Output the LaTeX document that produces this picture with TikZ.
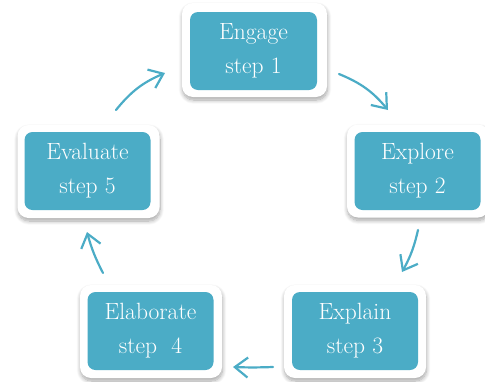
\documentclass[tikz,border=0pt]{standalone}
\usetikzlibrary{arrows.meta,shadows.blur}
\definecolor{cyclefill}{HTML}{4BACC6}
\begin{document}
\begin{tikzpicture}[x=1pt,y=-1pt,
  frame/.style={draw=none,fill=white,rounded corners=11pt,
    blur shadow={shadow xshift=0.5pt,shadow yshift=-3pt,shadow blur steps=10,shadow blur radius=4pt,shadow opacity=35},
    minimum width=142pt,minimum height=93pt,inner sep=0pt},
  stepbox/.style={fill=cyclefill,rounded corners=8pt,text=white,align=center,
    minimum width=126pt,minimum height=78pt,inner sep=0pt,
    font=\fontsize{23.5}{34}\selectfont},
  flow/.style={draw=cyclefill,line width=2.2pt,line cap=round,
    -{Straight Barb[length=13pt,width=20pt,line width=2.2pt]}}
]
\useasboundingbox (0,0) rectangle (485,381);

% white frames with soft shadow
\node[frame,minimum width=145pt,minimum height=94pt] (f1) at (254.5,50) {};
\node[frame] (f2) at (418,171) {};
\node[frame] (f3) at (355,331.5) {};
\node[frame] (f4) at (151,331.5) {};
\node[frame] (f5) at (88.5,171.5) {};

% coloured step boxes
\node[stepbox,minimum width=127pt] (s1) at (253.5,51) {Engage\\step 1};
\node[stepbox] (s2) at (417.5,171) {Explore\\step 2};
\node[stepbox] (s3) at (355,331) {Explain\\step 3};
\node[stepbox] (s4) at (150.5,331) {Elaborate\\step\ \ 4};
\node[stepbox] (s5) at (87.5,171) {Evaluate\\step 5};

% arrow end points
\coordinate (a1) at (339,74);  \coordinate (b1) at (388,110);
\coordinate (a2) at (418,230); \coordinate (b2) at (402,272);
\coordinate (a3) at (273,367); \coordinate (b3) at (233,367);
\coordinate (a4) at (103,273); \coordinate (b4) at (87,232);
\coordinate (a5) at (116,110); \coordinate (b5) at (165,73);

\draw[flow] (a1) to[bend left=14] (b1);
\draw[flow] (a2) to[bend left=8] (b2);
\draw[flow] (a3) to[bend left=2] (b3);
\draw[flow] (a4) to[bend left=6] (b4);
\draw[flow] (a5) to[bend left=14] (b5);
\end{tikzpicture}
\end{document}
